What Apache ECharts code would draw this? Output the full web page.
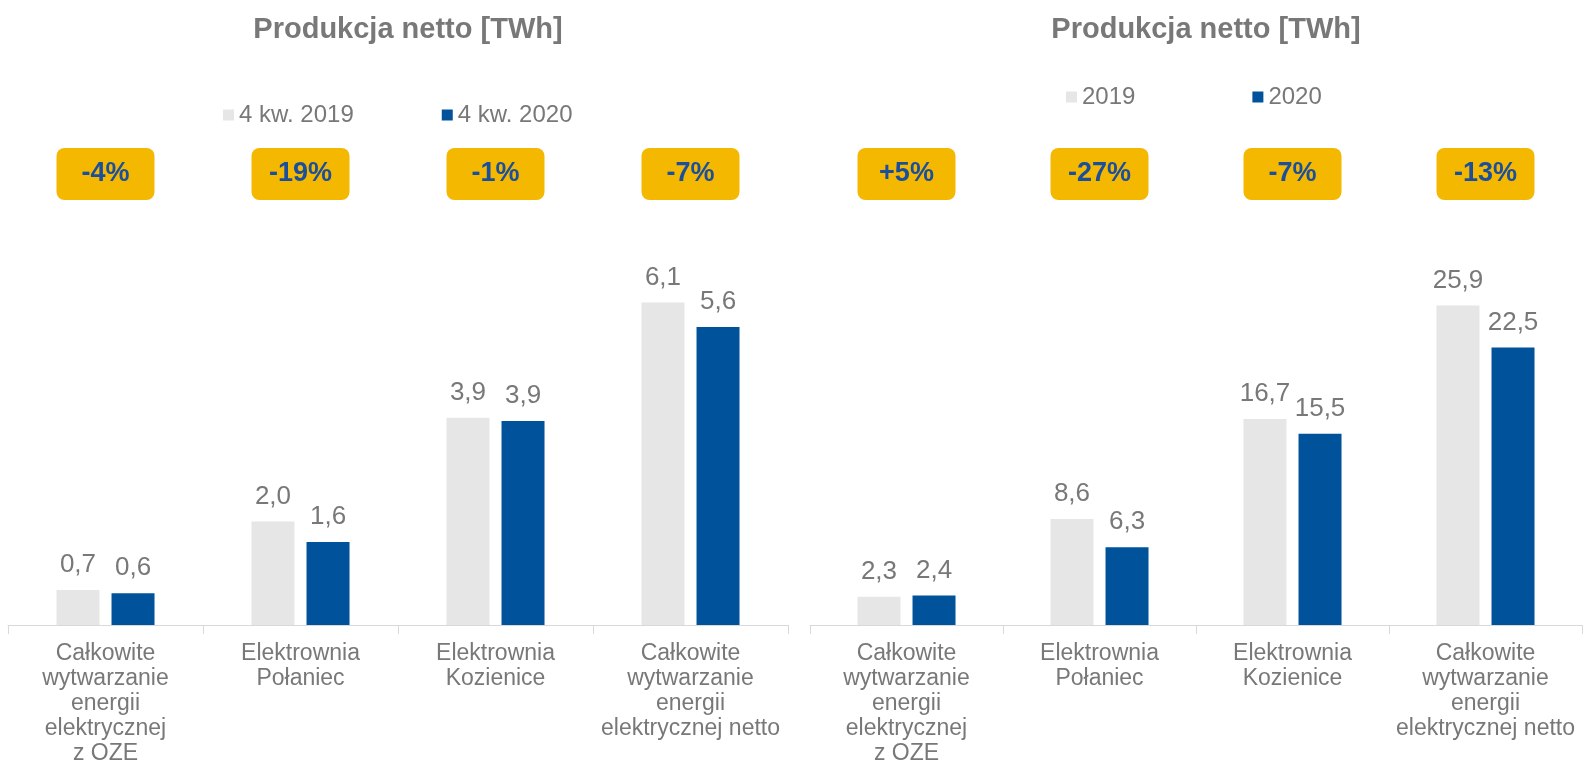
<!DOCTYPE html>
<html>
<head>
<meta charset="utf-8">
<script src="https://cdn.jsdelivr.net/npm/echarts@6/dist/echarts.min.js"></script>
<style>
html,body{margin:0;padding:0;background:#fff;}
#chart{width:1583px;height:774px;}
</style>
</head>
<body>
<div id="chart"></div>
<script>
const categories = [
  'Całkowite\nwytwarzanie\nenergii\nelektrycznej\nz OZE',
  'Elektrownia\nPołaniec',
  'Elektrownia\nKozienice',
  'Całkowite\nwytwarzanie\nenergii\nelektrycznej netto'
];
const titleText = 'Produkcja netto [TWh]';
const seriesNamesLeft = ['4 kw. 2019', '4 kw. 2020'];
const seriesNamesRight = ['2019', '2020'];
const q4_2019 = [0.66, 1.96, 3.92, 6.1];
const q4_2020 = [0.6, 1.57, 3.86, 5.64];
const y2019 = [2.3, 8.6, 16.7, 25.9];
const y2020 = [2.4, 6.3, 15.5, 22.5];
const changeLeft = ['-4%', '-19%', '-1%', '-7%'];
const changeRight = ['+5%', '-27%', '-7%', '-13%'];

const GRAY_TEXT = '#787878';
const LIGHT = '#e6e6e6';
const BLUE = '#00529b';
const FONT = 'Liberation Sans, Arial, sans-serif';

const chart = echarts.init(document.getElementById('chart'), null, {renderer: 'canvas'});

function bottomAxis(idx) {
  return {
    type: 'category', gridIndex: idx, data: categories, position: 'bottom',
    axisLine: {show: true, lineStyle: {color: '#d9d9d9', width: 1}},
    axisTick: {show: true, length: 9, lineStyle: {color: '#d9d9d9'}},
    axisLabel: {color: GRAY_TEXT, fontSize: 23, fontFamily: FONT, lineHeight: 25, margin: 16, interval: 0}
  };
}
function topAxis(idx, labels) {
  return {
    type: 'category', gridIndex: idx, data: labels, position: 'top',
    axisLine: {show: false}, axisTick: {show: false},
    axisLabel: {
      interval: 0, margin: 55,
      formatter: v => '{b|' + v + '}',
      rich: {b: {backgroundColor: '#f5b800', color: '#1b4f9b', fontWeight: 'bold', fontSize: 27,
        fontFamily: FONT, width: 98, height: 52, lineHeight: 52, align: 'center', borderRadius: 8}}
    }
  };
}
function fmt(p) { return p.value.toFixed(1).replace('.', ','); }
function barSeries(name, data, idx, color) {
  return {
    type: 'bar', name: name, data: data, xAxisIndex: idx * 2, yAxisIndex: idx,
    barWidth: 43, barGap: '28%',
    itemStyle: {color: color},
    label: {show: true, position: 'top', distance: 12, color: GRAY_TEXT, fontSize: 26, fontFamily: FONT, formatter: fmt}
  };
}

chart.setOption({
  animation: false,
  textStyle: {fontFamily: FONT},
  title: [
    {text: titleText, left: 403, top: 10, textAlign: 'center', textStyle: {color: GRAY_TEXT, fontSize: 29, fontWeight: 'bold', fontFamily: FONT}},
    {text: titleText, left: 1201, top: 10, textAlign: 'center', textStyle: {color: GRAY_TEXT, fontSize: 29, fontWeight: 'bold', fontFamily: FONT}}
  ],
  legend: [
    {data: seriesNamesLeft, left: 218, top: 98, icon: 'rect', itemWidth: 11, itemHeight: 11, itemGap: 88,
      textStyle: {color: GRAY_TEXT, fontSize: 24, fontFamily: FONT}},
    {data: seriesNamesRight, left: 1061, top: 80, icon: 'rect', itemWidth: 11, itemHeight: 11, itemGap: 117,
      textStyle: {color: GRAY_TEXT, fontSize: 24, fontFamily: FONT}}
  ],
  grid: [
    {left: 8, right: 795, top: 255, bottom: 149},
    {left: 810, right: 1, top: 255, bottom: 149}
  ],
  xAxis: [bottomAxis(0), topAxis(0, changeLeft), bottomAxis(1), topAxis(1, changeRight)],
  yAxis: [
    {type: 'value', gridIndex: 0, min: 0, max: 7, show: false},
    {type: 'value', gridIndex: 1, min: 0, max: 30, show: false}
  ],
  series: [
    barSeries(seriesNamesLeft[0], q4_2019, 0, LIGHT),
    barSeries(seriesNamesLeft[1], q4_2020, 0, BLUE),
    barSeries(seriesNamesRight[0], y2019, 1, LIGHT),
    barSeries(seriesNamesRight[1], y2020, 1, BLUE)
  ]
});
</script>
</body>
</html>
